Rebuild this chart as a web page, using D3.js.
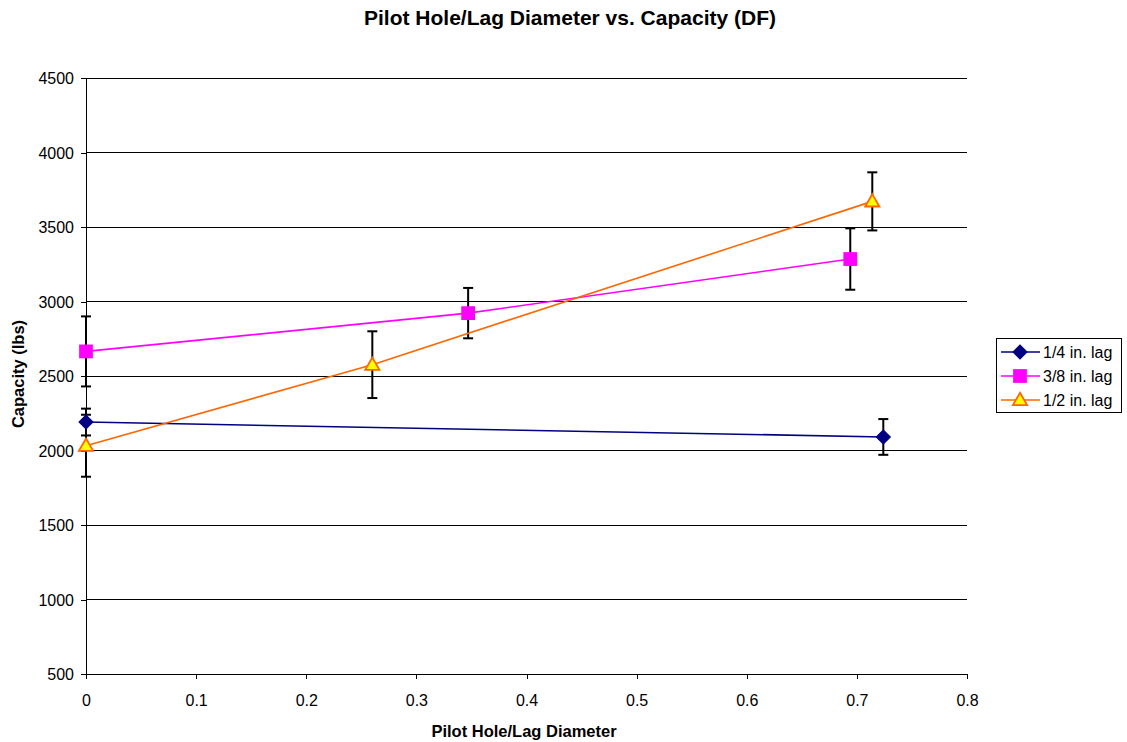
<!DOCTYPE html>
<html><head><meta charset="utf-8">
<script src="https://cdn.jsdelivr.net/npm/d3@7"></script>
<style>body{margin:0;background:#fff;}svg{display:block;font-family:Arial,"Liberation Sans",sans-serif;}</style>
</head><body><svg id="c" width="1127" height="742"></svg>
<script>
const seriesNames = ["1/4 in. lag", "3/8 in. lag", "1/2 in. lag"];
const quarterX = [0, 0.724];
const quarterY = [2191, 2091];
const quarterErr = [90, 120];
const threeEighthX = [0, 0.347, 0.694];
const threeEighthY = [2665, 2922, 3285];
const threeEighthErr = [235, 169, 206];
const halfX = [0, 0.26, 0.714];
const halfY = [2032, 2576, 3672];
const halfErr = [208, 224, 195];
const xTicks = [0, 0.1, 0.2, 0.3, 0.4, 0.5, 0.6, 0.7, 0.8];
const yTicks = [500, 1000, 1500, 2000, 2500, 3000, 3500, 4000, 4500];
const colors = {line: ["#000080", "#FF00FF", "#FF6600"], fill: ["#000080", "#FF00FF", "#FFFF00"]};

const svg = d3.select("#c");
const L = 86, R = 967, T = 78, B = 674;
const x = d3.scaleLinear().domain([0, 0.8]).range([L, R]);
const y = d3.scaleLinear().domain([500, 4500]).range([B, T]);

// gridlines
svg.append("g").selectAll("line").data(yTicks.slice(1)).join("line")
  .attr("x1", L).attr("x2", R).attr("y1", d => y(d)).attr("y2", d => y(d))
  .attr("stroke", "#000").attr("stroke-width", 1).attr("shape-rendering", "crispEdges");

// axes
const xa = svg.append("g").attr("transform", `translate(0,${B})`)
  .call(d3.axisBottom(x).tickValues(xTicks).tickSize(5).tickSizeOuter(0).tickFormat(d3.format("")));
const ya = svg.append("g").attr("transform", `translate(${L},0)`)
  .call(d3.axisLeft(y).tickValues(yTicks).tickSize(5).tickSizeOuter(0).tickFormat(d3.format("d")));
[xa, ya].forEach(a => {
  a.selectAll("path,line").attr("stroke", "#000").attr("shape-rendering", "crispEdges");
  a.selectAll("text").attr("font-size", 16).attr("fill", "#000").attr("font-family", "Arial, 'Liberation Sans', sans-serif");
});
xa.selectAll("text").attr("y", 32).attr("dy", null);
ya.selectAll("text").attr("dx", "-4").attr("dy", "0.35em");

const series = [
  {xs: quarterX, ys: quarterY, es: quarterErr},
  {xs: threeEighthX, ys: threeEighthY, es: threeEighthErr},
  {xs: halfX, ys: halfY, es: halfErr}
].map((s, i) => ({i, pts: s.xs.map((v, j) => ({x: v, y: s.ys[j], e: s.es[j]}))}));

// error bars
series.forEach(s => {
  const g = svg.append("g").attr("stroke", "#000").attr("stroke-width", 2);
  s.pts.forEach(p => {
    const cx = x(p.x), y1 = y(p.y + p.e), y2 = y(p.y - p.e);
    g.append("line").attr("x1", cx).attr("x2", cx).attr("y1", y1).attr("y2", y2);
    g.append("line").attr("x1", cx - 5).attr("x2", cx + 5).attr("y1", y1).attr("y2", y1);
    g.append("line").attr("x1", cx - 5).attr("x2", cx + 5).attr("y1", y2).attr("y2", y2);
  });
});

// lines
const line = d3.line().x(d => x(d.x)).y(d => y(d.y));
series.forEach(s => {
  svg.append("path").datum(s.pts).attr("d", line).attr("fill", "none")
    .attr("stroke", colors.line[s.i]).attr("stroke-width", 1.6);
});

function marker(g, i, cx, cy) {
  let p;
  if (i === 0) {
    p = g.append("path").attr("d", d3.symbol().type(d3.symbolSquare).size(100)())
      .attr("transform", `translate(${cx},${cy}) rotate(45)`)
      .attr("fill", colors.fill[0]).attr("stroke", colors.line[0]).attr("stroke-width", 1);
  } else if (i === 1) {
    p = g.append("path").attr("d", d3.symbol().type(d3.symbolSquare).size(190)())
      .attr("transform", `translate(${cx},${cy})`)
      .attr("fill", colors.fill[1]);
  } else {
    p = g.append("path").attr("d", d3.symbol().type(d3.symbolTriangle).size(88)())
      .attr("transform", `translate(${cx},${cy + 1})`)
      .attr("fill", colors.fill[2]).attr("stroke", colors.line[2]).attr("stroke-width", 1.8)
      .attr("stroke-linejoin", "miter");
  }
  return p;
}
series.forEach(s => {
  const g = svg.append("g");
  s.pts.forEach(p => marker(g, s.i, x(p.x), y(p.y)));
});

// titles
svg.append("text").attr("x", 570).attr("y", 25).attr("text-anchor", "middle")
  .attr("font-size", 21).attr("font-weight", "bold").text("Pilot Hole/Lag Diameter vs. Capacity (DF)");
svg.append("text").attr("x", 524).attr("y", 737).attr("text-anchor", "middle")
  .attr("font-size", 16.5).attr("font-weight", "bold").text("Pilot Hole/Lag Diameter");
svg.append("text").attr("transform", `translate(24,${(T + B) / 2 - 2}) rotate(-90)`).attr("text-anchor", "middle")
  .attr("font-size", 16.5).attr("font-weight", "bold").text("Capacity (lbs)");

// legend
const lg = svg.append("g");
lg.append("rect").attr("x", 996.5).attr("y", 338.5).attr("width", 125).attr("height", 74)
  .attr("fill", "#fff").attr("stroke", "#000").attr("stroke-width", 1);
seriesNames.forEach((n, i) => {
  const cy = 352 + i * 24;
  lg.append("line").attr("x1", 1001).attr("x2", 1040).attr("y1", cy).attr("y2", cy)
    .attr("stroke", colors.line[i]).attr("stroke-width", 1.6);
  marker(lg, i, 1020, cy);
  lg.append("text").attr("x", 1043).attr("y", cy).attr("dy", "0.36em").attr("font-size", 16).text(n);
});
</script></body></html>
